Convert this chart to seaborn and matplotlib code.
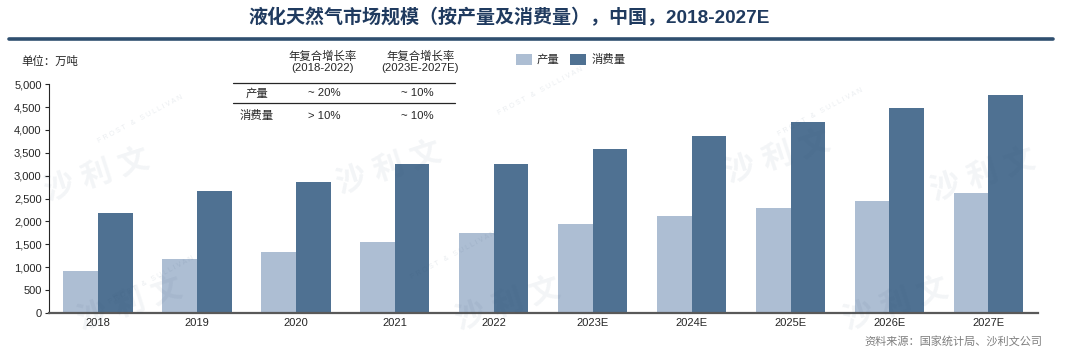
import pandas as pd
import matplotlib
matplotlib.use('Agg')
import matplotlib.pyplot as plt
import seaborn as sns
from matplotlib.patches import Rectangle

# 数据 (单位: 万吨)
years = ['2018', '2019', '2020', '2021', '2022', '2023E', '2024E', '2025E', '2026E', '2027E']
production = [905, 1165, 1325, 1540, 1745, 1935, 2120, 2290, 2450, 2620]
consumption = [2175, 2655, 2855, 3260, 3265, 3575, 3865, 4175, 4490, 4760]
series_names = ['产量', '消费量']
cagr_header = ['年复合增长率\n(2018-2022)', '年复合增长率\n(2023E-2027E)']
cagr_rows = [['产量', '~ 20%', '~ 10%'], ['消费量', '> 10%', '~ 10%']]

colors = ['#ADBED3', '#4F7192']
navy = '#1F3A5F'
txt = '#262626'
fs = 8.2

sns.set_theme(style='white')
plt.rcParams['font.family'] = ['Liberation Sans', 'Noto Sans CJK SC']
plt.rcParams['axes.unicode_minus'] = False

df = pd.DataFrame({
    'year': years * 2,
    'value': production + consumption,
    'series': [series_names[0]] * len(years) + [series_names[1]] * len(years),
})

fig = plt.figure(figsize=(10.8, 3.5), dpi=100)
ax = fig.add_axes([0.045, 0.1066, 0.916, 0.6525])

sns.barplot(data=df, x='year', y='value', hue='series', palette=colors,
            width=0.7, gap=0, saturation=1, legend=False, ax=ax, errorbar=None,
            linewidth=0)

ax.set_xlim(-0.5, 9.5)
ax.set_ylim(0, 5000)
ax.set_yticks(range(0, 5001, 500))
ax.set_yticklabels([f'{v:,}' for v in range(0, 5001, 500)], fontsize=8, color=txt)
ax.tick_params(axis='x', length=0, labelsize=8, labelcolor=txt, pad=4)
ax.tick_params(axis='y', length=3, width=0.8, color=txt, direction='out', pad=2, left=True)
ax.set_xlabel('')
ax.set_ylabel('')
for s in ['top', 'right']:
    ax.spines[s].set_visible(False)
ax.spines['left'].set_color(txt)
ax.spines['left'].set_linewidth(0.8)
ax.spines['bottom'].set_color('#595959')
ax.spines['bottom'].set_linewidth(1.6)

# 水印
for x, y in [(0.09, 0.5), (0.36, 0.52), (0.72, 0.55), (0.91, 0.5), (0.12, 0.13), (0.47, 0.13), (0.83, 0.13)]:
    fig.text(x, y, '沙 利 文', fontsize=22, color='#2F4F6F', alpha=0.06, rotation=18,
             ha='center', va='center', fontweight='bold')
for x, y in [(0.13, 0.66), (0.42, 0.27), (0.76, 0.68), (0.14, 0.2), (0.5, 0.74)]:
    fig.text(x, y, 'F R O S T   &   S U L L I V A N', fontsize=5, color='#2F4F6F', alpha=0.1,
             rotation=28, ha='center', va='center')

# 标题
fig.text(0.4718, 0.95, '液化天然气市场规模（按产量及消费量），中国，2018-2027E',
         fontsize=13.7, fontweight='bold', color=navy, ha='center', va='center')
fig.add_artist(plt.Line2D([0.008, 0.975], [0.89, 0.89], color='#2F4F6F', lw=2.6))

fig.text(0.02, 0.824, '单位：万吨', fontsize=fs, color=txt, ha='left', va='center')

# 图例
for x0, name, c in zip([0.4775, 0.528], series_names, colors):
    fig.add_artist(Rectangle((x0, 0.814), 0.015, 0.033, transform=fig.transFigure,
                             facecolor=c, edgecolor='none'))
    fig.text(x0 + 0.0195, 0.831, name, fontsize=fs, color=txt, ha='left', va='center')

# 复合增长率表
for xc, h in zip([0.299, 0.389], cagr_header):
    fig.text(xc, 0.824, h, fontsize=fs, color=txt, ha='center', va='center', linespacing=1.1)
fig.add_artist(plt.Line2D([0.2157, 0.4213], [0.762, 0.762], color=txt, lw=0.9))
fig.add_artist(plt.Line2D([0.2157, 0.4213], [0.7066, 0.7066], color=txt, lw=0.9))
for row, yc in zip(cagr_rows, [0.733, 0.669]):
    fig.text(0.238, yc, row[0], fontsize=fs, color=txt, ha='center', va='center')
    fig.text(0.300, yc, row[1], fontsize=fs, color=txt, ha='center', va='center')
    fig.text(0.386, yc, row[2], fontsize=fs, color=txt, ha='center', va='center')

fig.text(0.965, 0.026, '资料来源：国家统计局、沙利文公司', fontsize=8, color='#7F7F7F',
         ha='right', va='center')

fig.savefig('out.png', dpi=100)
